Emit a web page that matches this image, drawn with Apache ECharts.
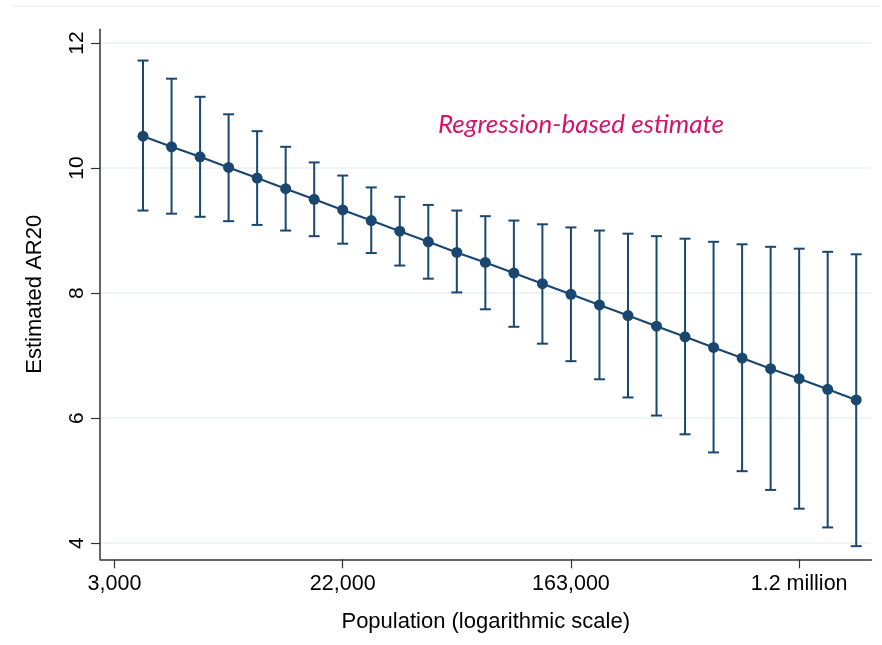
<!DOCTYPE html>
<html>
<head>
<meta charset="utf-8">
<script src="https://cdn.jsdelivr.net/npm/echarts@6/dist/echarts.min.js"></script>
<style>
html,body{margin:0;padding:0;background:#fff;}
#chart{width:882px;height:645px;}
</style>
</head>
<body>
<div id="chart"></div>
<script>
// log(population) positions of the estimates
var lnPop = [8.25, 8.5, 8.75, 9.0, 9.25, 9.5, 9.75, 10.0, 10.25, 10.5, 10.75, 11.0, 11.25,
             11.5, 11.75, 12.0, 12.25, 12.5, 12.75, 13.0, 13.25, 13.5, 13.75, 14.0, 14.25, 14.5];
var estimate = [10.51, 10.34, 10.18, 10.01, 9.84, 9.67, 9.50, 9.33, 9.16, 8.99, 8.82, 8.65, 8.49,
                8.32, 8.15, 7.98, 7.81, 7.64, 7.47, 7.30, 7.13, 6.96, 6.79, 6.63, 6.46, 6.29];
var upper = [11.72, 11.43, 11.14, 10.86, 10.59, 10.34, 10.09, 9.88, 9.69, 9.54, 9.41, 9.32, 9.23,
             9.16, 9.10, 9.05, 9.00, 8.95, 8.91, 8.87, 8.82, 8.78, 8.74, 8.71, 8.66, 8.62];
var lower = [9.32, 9.27, 9.22, 9.15, 9.09, 9.00, 8.91, 8.79, 8.64, 8.44, 8.23, 8.01, 7.74,
             7.46, 7.19, 6.91, 6.62, 6.33, 6.04, 5.74, 5.45, 5.15, 4.85, 4.55, 4.25, 3.95];
var xTickValues = [8, 10, 12, 14];
var xTickLabels = ['3,000', '22,000', '163,000', '1.2 million'];
var yTickValues = [4, 6, 8, 10, 12];

var navy = '#1a476f';
var chart = echarts.init(document.getElementById('chart'));

var lineData = lnPop.map(function (x, i) { return [x, estimate[i]]; });
var errData = lnPop.map(function (x, i) { return [x, lower[i], upper[i]]; });

chart.setOption({
  animation: false,
  backgroundColor: '#ffffff',
  textStyle: { fontFamily: 'Liberation Sans, Arial, sans-serif' },
  grid: { left: 100, right: 10.5, top: 29.3, bottom: 85.7, containLabel: false },
  graphic: [
    { type: 'line', shape: { x1: 13, y1: 6, x2: 880, y2: 6 }, style: { stroke: '#edf1f4', lineWidth: 1.5 }, silent: true },
    { type: 'text', left: 438, top: 112, style: { text: 'Regression-based estimate', fill: '#d4136b',
      font: 'italic 26px Lato, "Open Sans", sans-serif' }, silent: true }
  ],
  xAxis: {
    type: 'value', min: 7.873, max: 14.634,
    name: 'Population (logarithmic scale)', nameLocation: 'middle', nameGap: 52,
    nameTextStyle: { fontSize: 22, color: '#000', fontFamily: 'Liberation Sans, Arial, sans-serif' },
    axisLine: { show: true, onZero: false, lineStyle: { color: '#333', width: 1.5 } },
    axisTick: { show: true, length: 9, lineStyle: { color: '#333', width: 1.2 }, customValues: xTickValues },
    axisLabel: { fontSize: 21.5, color: '#000', margin: 14, customValues: xTickValues,
      formatter: function (v) { var i = xTickValues.indexOf(v); return i >= 0 ? xTickLabels[i] : ''; } },
    splitLine: { show: false }
  },
  yAxis: {
    type: 'value', min: 3.74, max: 12.22,
    name: 'Estimated AR20', nameLocation: 'middle', nameGap: 54, nameRotate: 90,
    nameTextStyle: { fontSize: 22, color: '#000', fontFamily: 'Liberation Sans, Arial, sans-serif' },
    axisLine: { show: true, onZero: false, lineStyle: { color: '#333', width: 1.5 } },
    axisTick: { show: true, length: 9, lineStyle: { color: '#333', width: 1.2 }, customValues: yTickValues },
    axisLabel: { fontSize: 21, color: '#000', margin: 12, rotate: 90, customValues: yTickValues },
    splitLine: { show: true, lineStyle: { color: '#e9eff2', width: 1.5 } }
  },
  series: [
    {
      type: 'custom',
      data: errData,
      z: 2,
      renderItem: function (params, api) {
        var x = api.value(0);
        var lo = api.coord([x, api.value(1)]);
        var hi = api.coord([x, api.value(2)]);
        var hw = 5.5;
        var st = { stroke: navy, lineWidth: 2, fill: null };
        return {
          type: 'group',
          children: [
            { type: 'line', shape: { x1: lo[0], y1: lo[1], x2: hi[0], y2: hi[1] }, style: st },
            { type: 'line', shape: { x1: lo[0] - hw, y1: lo[1], x2: lo[0] + hw, y2: lo[1] }, style: st },
            { type: 'line', shape: { x1: hi[0] - hw, y1: hi[1], x2: hi[0] + hw, y2: hi[1] }, style: st }
          ]
        };
      }
    },
    {
      type: 'line',
      data: lineData,
      z: 3,
      symbol: 'circle',
      symbolSize: 11,
      lineStyle: { color: navy, width: 2.2 },
      itemStyle: { color: navy, borderWidth: 0 }
    }
  ]
});
</script>
</body>
</html>
